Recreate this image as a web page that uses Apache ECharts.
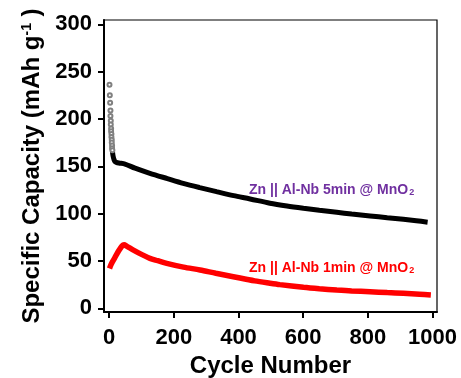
<!DOCTYPE html>
<html><head><meta charset="utf-8">
<script src="https://cdn.jsdelivr.net/npm/echarts@6/dist/echarts.min.js"></script>
<style>html,body{margin:0;padding:0;background:#fff}#c{width:461px;height:378px}</style>
</head><body><div id="c"></div>
<script>
const xTicks = [0, 200, 400, 600, 800, 1000];
const yTicks = [0, 50, 100, 150, 200, 250, 300];

// Zn || Al-Nb 5min @ MnO2 (black)
const cycles5min = [10, 12, 15, 18, 22, 30, 49, 80, 126, 180, 229, 280, 332, 385, 436, 497, 550, 601, 650, 704, 750, 807, 860, 910, 950, 985];
const capacity5min = [166, 161, 157, 155, 154.2, 153.5, 152.4, 148, 142.6, 137, 132, 127.5, 123.2, 119, 115.5, 111, 108, 105.6, 103.5, 101.4, 99.5, 97.5, 95.7, 94, 92.5, 91];
// early scattered cycles of the 5min cell
const earlyCycles5min = [1, 2, 3, 4, 4, 5, 5, 6, 6, 7, 7, 8, 8, 9, 9, 10];
const earlyCapacity5min = [236, 225, 217, 209, 203, 198, 194, 190, 187, 184, 181, 178, 175, 172, 169, 167];

// Zn || Al-Nb 1min @ MnO2 (red)
const cycles1min = [1, 5, 10, 20, 30, 40, 46, 55, 75, 100, 126, 150, 178, 230, 281, 330, 384, 450, 497, 528, 601, 650, 704, 750, 807, 860, 910, 960, 995];
const capacity1min = [42, 45.5, 49, 55, 61, 66, 67, 65.5, 61.5, 57, 52.8, 50.3, 47.5, 43.5, 40.5, 37, 33.4, 29, 26.5, 25, 22.2, 20.7, 19.3, 18.3, 17.5, 16.6, 15.8, 14.8, 14];

const label5min = 'Zn || Al-Nb 5min @ MnO{sub|2}';
const label1min = 'Zn || Al-Nb 1min @ MnO{sub|2}';

const FONT = 'Liberation Sans, Arial, sans-serif';
const zip = (a, b) => a.map((v, i) => [v, b[i]]);

function annotation(text, color, coord) {
  return {
    symbol: 'circle', symbolSize: 0, silent: true,
    data: [{ coord: coord }],
    label: {
      show: true, position: 'inside', formatter: text,
      color: color, fontFamily: FONT, fontWeight: 'bold', fontSize: 14,
      rich: { sub: { color: color, fontFamily: FONT, fontWeight: 'bold', fontSize: 9, verticalAlign: 'bottom', padding: [0, 0, 0, 1] } }
    }
  };
}

const chart = echarts.init(document.getElementById('c'), null, { renderer: 'canvas' });
chart.setOption({
  animation: false,
  backgroundColor: '#fff',
  grid: { left: 104, top: 20, right: 24, bottom: 66, outerBoundsMode: 'none', containLabel: false, show: true, borderColor: '#000', borderWidth: 1.2, backgroundColor: 'transparent' },
  xAxis: {
    type: 'value', min: -16, max: 1014,
    name: 'Cycle Number', nameLocation: 'middle', nameGap: 42,
    nameTextStyle: { fontFamily: FONT, fontWeight: 'bold', fontSize: 24, color: '#000' },
    axisLine: { show: true, onZero: false, lineStyle: { color: '#000', width: 2 } },
    axisTick: { show: true, inside: false, length: 6, customValues: xTicks, lineStyle: { color: '#000', width: 2 } },
    axisLabel: { show: true, customValues: xTicks, formatter: v => String(v), hideOverlap: false, margin: 15, fontFamily: FONT, fontWeight: 'bold', fontSize: 22, color: '#000' },
    splitLine: { show: false }
  },
  yAxis: {
    type: 'value', min: -3.9, max: 304.5,
    name: '{a|Specific Capacity (mAh g}{s|-1}{a| )}', nameLocation: 'middle', nameGap: 60,
    nameTextStyle: {
      color: '#000',
      rich: {
        a: { fontFamily: FONT, fontWeight: 'bold', fontSize: 24, color: '#000' },
        s: { fontFamily: FONT, fontWeight: 'bold', fontSize: 14, color: '#000', verticalAlign: 'top' }
      }
    },
    axisLine: { show: true, onZero: false, lineStyle: { color: '#000', width: 2 } },
    axisTick: { show: true, inside: false, length: 6, customValues: yTicks, lineStyle: { color: '#000', width: 2 } },
    axisLabel: { show: true, customValues: yTicks, formatter: v => String(v), margin: 12, fontFamily: FONT, fontWeight: 'bold', fontSize: 22, color: '#000' },
    splitLine: { show: false }
  },
  series: [
    {
      name: '5min-early', type: 'scatter', data: zip(earlyCycles5min, earlyCapacity5min), z: 3,
      symbol: 'emptyCircle', symbolSize: 4, itemStyle: { color: '#808080', borderColor: '#808080', borderWidth: 0.8, opacity: 1 }
    },
    {
      name: '5min', type: 'line', data: zip(cycles5min, capacity5min),
      smooth: 0.3, showSymbol: false, lineStyle: { color: '#000', width: 5 }, itemStyle: { color: '#000' },
      markPoint: annotation(label5min, '#7030A0', [688, 125])
    },
    {
      name: '1min', type: 'line', data: zip(cycles1min, capacity1min),
      smooth: 0.3, showSymbol: false, lineStyle: { color: '#ff0000', width: 5.5 }, itemStyle: { color: '#ff0000' },
      markPoint: annotation(label1min, '#ff0000', [688, 42.6])
    }
  ]
});
</script></body></html>
